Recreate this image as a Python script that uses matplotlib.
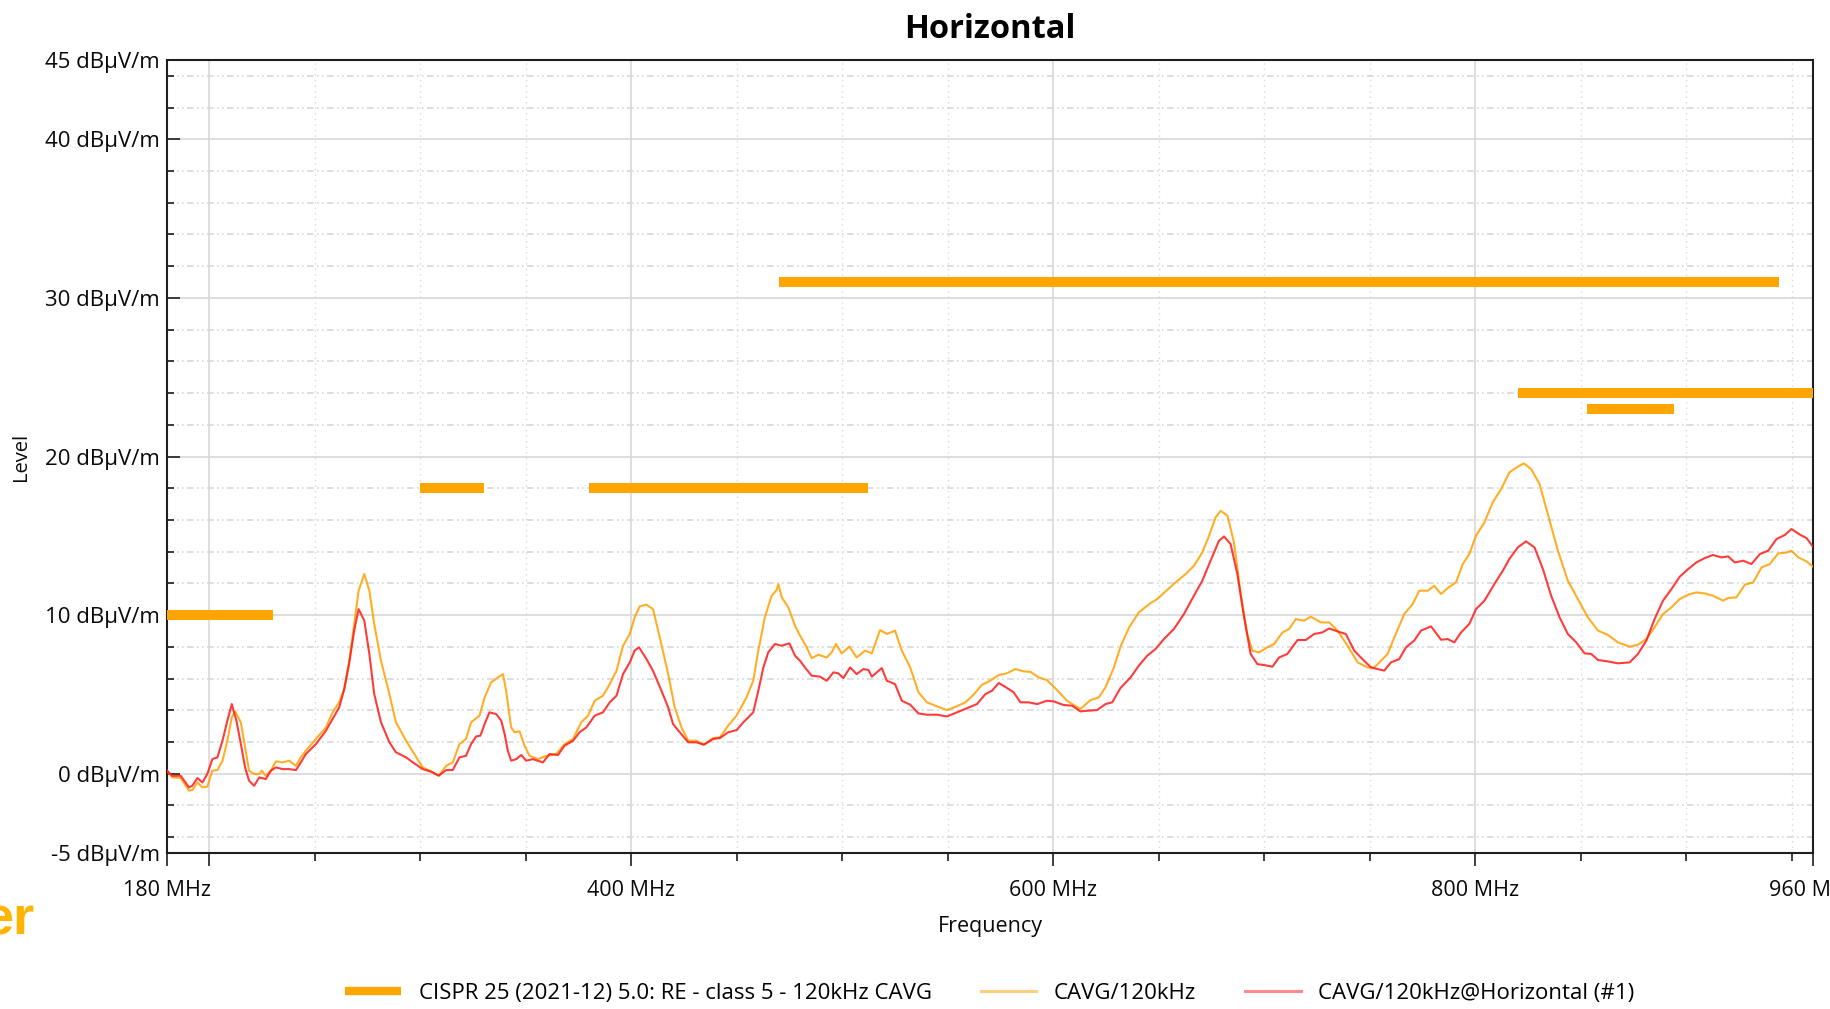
import numpy as np
import matplotlib.pyplot as plt
from matplotlib.lines import Line2D
from matplotlib.ticker import FixedLocator, FuncFormatter

plt.rcParams['font.family'] = ['Open Sans', 'DejaVu Sans']

# CISPR 25 class 5 CAVG limit segments
limit_start = [180, 300, 380, 420, 470, 820, 925, 853]
limit_stop = [230, 330, 450, 512, 944, 960, 960, 894]
limit_level = [10, 18, 18, 18, 31, 24, 24, 23]

# CAVG/120kHz
cavg_freq = [180.0, 182.5, 186.5, 190.4, 192.0, 194.4, 196.8, 199.1, 201.5, 203.9,
             206.3, 208.6, 210.7, 212.3, 215.0, 217.0, 218.9, 221.3, 223.7, 224.9,
             226.8, 229.2, 231.6, 234.7, 237.9, 241.1, 243.4, 245.8, 250.6, 255.3,
             258.5, 261.6, 264.0, 266.4, 268.7, 270.8, 273.5, 275.9, 278.2, 281.4,
             285.4, 288.5, 293.3, 297.2, 301.2, 305.1, 308.8, 312.3, 315.4, 318.6,
             321.7, 324.1, 326.5, 328.1, 330.5, 333.6, 336.8, 339.2, 340.7, 343.1,
             344.7, 347.1, 349.4, 351.8, 355.8, 359.7, 364.5, 368.4, 372.4, 376.3,
             379.5, 382.7, 386.6, 389.8, 393.0, 396.1, 399.3, 401.6, 404.0, 407.2,
             410.3, 413.5, 417.5, 420.6, 423.8, 427.0, 430.9, 434.4, 438.8, 442.0,
             445.9, 449.9, 454.6, 457.8, 460.2, 463.3, 466.5, 468.9, 469.7, 471.3,
             474.4, 477.6, 480.0, 483.1, 485.5, 488.7, 492.6, 495.0, 497.0, 499.7,
             503.4, 506.8, 510.8, 514.0, 517.9, 521.1, 525.0, 528.2, 532.2, 536.1,
             540.1, 544.8, 549.6, 554.3, 558.3, 562.2, 566.2, 570.1, 574.1, 578.0,
             582.0, 586.0, 589.1, 593.1, 597.0, 601.8, 606.5, 612.8, 617.6, 621.5,
             624.7, 628.7, 631.8, 635.8, 640.5, 646.1, 649.2, 653.2, 657.9, 662.7,
             666.6, 670.6, 673.8, 676.9, 679.3, 682.5, 685.6, 688.8, 691.9, 694.3,
             697.5, 701.4, 704.6, 708.6, 711.7, 714.9, 718.8, 722.0, 726.8, 730.7,
             734.7, 739.4, 744.2, 748.9, 752.1, 755.2, 758.4, 761.6, 766.3, 770.3,
             773.4, 777.4, 780.5, 783.7, 787.3, 790.8, 794.0, 797.1, 800.3, 804.3,
             808.2, 812.2, 816.1, 820.1, 822.9, 826.4, 830.4, 834.3, 839.1, 843.8,
             848.6, 853.3, 858.1, 862.8, 867.5, 873.1, 877.0, 881.0, 884.9, 888.9,
             892.9, 896.8, 900.8, 904.7, 908.7, 912.6, 917.4, 919.8, 923.7, 927.7,
             931.6, 935.6, 939.5, 943.5, 947.4, 949.8, 953.0, 956.9, 960.0]
cavg_level = [0.19, -0.23, -0.27, -1.07, -1.03, -0.55, -0.86, -0.82, 0.19, 0.23,
              0.82, 2.08, 3.55, 3.93, 3.24, 1.66, 0.19, -0.02, -0.02, 0.19,
              -0.13, 0.19, 0.78, 0.71, 0.82, 0.50, 1.03, 1.45, 2.19, 2.92,
              3.87, 4.50, 5.34, 7.12, 9.44, 11.54, 12.59, 11.54, 9.44, 7.12,
              5.02, 3.24, 2.08, 1.24, 0.40, 0.15, -0.13, 0.50, 0.71, 1.87,
              2.19, 3.24, 3.50, 3.66, 4.81, 5.76, 6.07, 6.28, 5.23, 2.92,
              2.61, 2.67, 1.77, 1.13, 0.92, 1.13, 1.24, 1.87, 2.19, 3.24,
              3.66, 4.60, 4.92, 5.65, 6.49, 8.07, 8.81, 9.86, 10.55, 10.66,
              10.38, 8.60, 6.28, 4.18, 2.92, 2.08, 2.08, 1.83, 2.25, 2.29,
              3.03, 3.66, 4.81, 5.86, 7.76, 9.86, 11.22, 11.58, 11.96, 11.12,
              10.49, 9.33, 8.70, 7.97, 7.29, 7.50, 7.33, 7.65, 8.18, 7.59,
              8.01, 7.33, 7.76, 7.59, 9.06, 8.81, 9.02, 7.76, 6.70, 5.13,
              4.50, 4.25, 4.01, 4.25, 4.50, 4.98, 5.61, 5.86, 6.22, 6.33,
              6.60, 6.45, 6.43, 6.07, 5.90, 5.27, 4.60, 4.08, 4.64, 4.81,
              5.44, 6.70, 8.00, 9.20, 10.17, 10.76, 11.01, 11.50, 12.06, 12.59,
              13.11, 13.95, 15.01, 16.16, 16.58, 16.27, 14.59, 11.33, 8.81, 7.76,
              7.65, 7.97, 8.18, 8.91, 9.12, 9.75, 9.65, 9.90, 9.54, 9.54,
              9.02, 8.07, 7.02, 6.70, 6.70, 7.12, 7.55, 8.60, 10.07, 10.70,
              11.54, 11.54, 11.85, 11.33, 11.75, 12.06, 13.22, 13.85, 15.01, 15.85,
              17.11, 17.95, 19.00, 19.36, 19.57, 19.21, 18.26, 16.37, 14.06, 12.17,
              11.01, 9.86, 9.02, 8.75, 8.28, 8.01, 8.13, 8.49, 9.23, 10.07,
              10.49, 11.01, 11.29, 11.43, 11.37, 11.22, 10.91, 11.08, 11.12, 11.92,
              12.06, 13.01, 13.22, 13.89, 13.95, 14.06, 13.64, 13.39, 13.05]

# CAVG/120kHz@Horizontal (#1)
horiz_freq = [180.0, 182.5, 186.5, 190.4, 192.0, 194.4, 196.8, 199.1, 201.5, 203.9,
              206.3, 208.6, 210.7, 212.9, 215.0, 217.0, 218.9, 221.3, 223.7, 226.8,
              229.2, 231.6, 234.7, 237.9, 241.1, 243.4, 245.8, 250.6, 255.3, 258.5,
              261.6, 264.0, 266.4, 268.7, 270.8, 273.5, 275.9, 278.2, 281.4, 285.4,
              288.5, 293.3, 297.2, 301.2, 305.1, 308.8, 312.3, 315.4, 318.6, 321.7,
              324.1, 326.5, 328.5, 330.5, 332.8, 336.0, 338.4, 340.0, 341.5, 343.1,
              345.5, 347.9, 350.2, 353.4, 358.1, 361.3, 365.3, 368.4, 372.4, 375.5,
              378.7, 382.7, 386.6, 389.8, 393.0, 396.1, 399.3, 401.6, 403.7, 407.2,
              410.3, 414.3, 417.5, 419.8, 423.0, 427.0, 430.9, 434.4, 438.8, 442.0,
              445.9, 449.9, 453.1, 457.8, 460.2, 462.6, 464.9, 468.1, 471.3, 474.9,
              477.6, 480.0, 482.3, 485.5, 489.4, 492.6, 495.8, 498.1, 500.5, 503.7,
              506.8, 510.0, 512.4, 514.0, 518.7, 521.1, 525.0, 528.2, 532.2, 536.1,
              540.1, 544.8, 549.6, 554.3, 559.1, 563.8, 567.8, 570.9, 574.1, 577.2,
              581.2, 584.4, 588.3, 592.3, 597.0, 600.2, 604.9, 608.9, 612.8, 616.0,
              620.7, 624.7, 627.9, 631.8, 636.6, 640.5, 644.5, 648.4, 652.4, 657.1,
              661.9, 666.6, 670.6, 674.5, 678.5, 680.9, 684.0, 687.2, 690.4, 693.5,
              696.7, 699.9, 703.8, 707.0, 710.9, 715.7, 719.6, 723.6, 727.5, 730.7,
              734.7, 738.6, 742.6, 745.7, 750.5, 753.7, 756.8, 760.0, 763.9, 767.1,
              771.0, 774.2, 779.0, 783.7, 786.9, 790.0, 793.2, 797.1, 800.3, 804.3,
              809.0, 813.0, 816.1, 820.1, 824.0, 828.0, 832.0, 835.9, 839.9, 843.8,
              847.8, 851.7, 854.9, 858.1, 862.8, 867.5, 873.1, 877.0, 881.0, 884.9,
              888.9, 892.9, 896.8, 900.8, 904.7, 908.7, 912.6, 916.6, 919.8, 922.9,
              926.9, 930.8, 934.8, 938.7, 942.7, 946.6, 949.8, 953.8, 956.9, 960.0]
horiz_level = [0.19, -0.13, -0.13, -0.86, -0.76, -0.27, -0.55, -0.02, 0.92, 1.03,
               2.08, 3.34, 4.39, 3.34, 1.87, 0.40, -0.44, -0.76, -0.23, -0.34,
               0.19, 0.40, 0.29, 0.29, 0.23, 0.71, 1.24, 1.87, 2.71, 3.45,
               4.18, 5.34, 7.02, 9.02, 10.38, 9.65, 7.54, 5.02, 3.24, 1.98,
               1.35, 1.03, 0.65, 0.29, 0.13, -0.12, 0.23, 0.23, 1.03, 1.13,
               1.87, 2.35, 2.40, 3.13, 3.87, 3.76, 3.34, 2.50, 1.45, 0.82,
               0.92, 1.18, 0.82, 0.92, 0.71, 1.24, 1.18, 1.77, 2.08, 2.61,
               2.92, 3.66, 3.87, 4.50, 4.92, 6.28, 7.02, 7.76, 7.97, 7.23,
               6.49, 5.23, 4.18, 3.13, 2.61, 1.98, 1.98, 1.83, 2.19, 2.25,
               2.61, 2.75, 3.24, 3.87, 5.23, 6.70, 7.65, 8.18, 8.07, 8.22,
               7.44, 7.12, 6.70, 6.18, 6.12, 5.86, 6.39, 6.33, 6.03, 6.70,
               6.28, 6.60, 6.54, 6.12, 6.66, 5.86, 5.65, 4.60, 4.35, 3.80,
               3.72, 3.72, 3.61, 3.87, 4.14, 4.39, 5.02, 5.23, 5.72, 5.48,
               5.13, 4.50, 4.50, 4.39, 4.60, 4.56, 4.33, 4.29, 3.93, 3.97,
               4.01, 4.39, 4.50, 5.40, 6.07, 6.81, 7.44, 7.86, 8.49, 9.12,
               10.07, 11.22, 12.17, 13.43, 14.69, 14.96, 14.48, 12.59, 9.86, 7.55,
               6.91, 6.85, 6.75, 7.33, 7.55, 8.43, 8.43, 8.81, 8.91, 9.16,
               8.97, 8.81, 7.76, 7.33, 6.70, 6.60, 6.50, 7.02, 7.23, 7.97,
               8.39, 9.02, 9.29, 8.45, 8.49, 8.28, 8.91, 9.44, 10.38, 10.91,
               11.96, 12.80, 13.54, 14.27, 14.65, 14.27, 12.90, 11.22, 9.86, 8.81,
               8.28, 7.59, 7.55, 7.17, 7.08, 6.96, 7.02, 7.55, 8.39, 9.75,
               10.91, 11.64, 12.42, 12.90, 13.32, 13.60, 13.79, 13.64, 13.70, 13.32,
               13.43, 13.22, 13.85, 14.06, 14.80, 15.05, 15.43, 15.07, 14.86, 14.31]

x_major = [180, 200, 400, 600, 800, 960]
x_labeled = [180, 400, 600, 800, 960]
x_minor = [250, 300, 350, 450, 500, 550, 650, 700, 750, 850, 900, 950]
y_major = [-5, 0, 10, 20, 30, 40, 45]
y_minor = [v for v in range(-4, 45, 2) if v % 10 != 0]

limit_color = '#FFA500'
cavg_color = '#FFA000'
horiz_color = '#FF1A1A'
grid_color = '#D8D8D8'
axis_color = '#1E1E1E'
text_color = '#0A0A0A'

fig = plt.figure(figsize=(18.31, 10.09), dpi=100)
ax = fig.add_axes([0.0912, 0.1546, 0.899, 0.7859])

for f0, f1, lvl in zip(limit_start, limit_stop, limit_level):
    ax.plot([f0, f1], [lvl, lvl], color=limit_color, lw=7.2,
            solid_capstyle='butt', zorder=4)

ax.plot(cavg_freq, cavg_level, color=cavg_color, lw=1.5, alpha=0.85, zorder=3)
ax.plot(horiz_freq, horiz_level, color=horiz_color, lw=1.5, alpha=0.85, zorder=3)

ax.set_xlim(180, 960)
ax.set_ylim(-5, 45)

ax.xaxis.set_major_locator(FixedLocator(x_major))
ax.xaxis.set_minor_locator(FixedLocator(x_minor))
ax.xaxis.set_major_formatter(FuncFormatter(
    lambda v, p: f'{v:g} MHz' if v in x_labeled else ''))
ax.yaxis.set_major_locator(FixedLocator(y_major))
ax.yaxis.set_minor_locator(FixedLocator(y_minor))
ax.yaxis.set_major_formatter(FuncFormatter(lambda v, p: f'{v:g} dBµV/m'))

ax.grid(which='major', color=grid_color, lw=1.2, ls='-', zorder=0)
ax.grid(which='minor', axis='y', color=grid_color, lw=1.2,
        ls=(0, (4, 2, 1, 2, 1, 2)), zorder=0)
ax.grid(which='minor', axis='x', color=grid_color, lw=1.0, ls=(0, (1, 3)), zorder=0)

ax.tick_params(axis='y', which='major', direction='in', length=9.5, width=1.2,
               color=axis_color, labelsize=16, labelcolor=text_color, pad=5)
ax.tick_params(axis='y', which='minor', direction='in', length=5, width=1.2,
               color=axis_color)
ax.tick_params(axis='x', which='major', direction='out', length=9.5, width=1.2,
               color=axis_color, labelsize=15.5, labelcolor=text_color, pad=10)
ax.tick_params(axis='x', which='minor', direction='out', length=5.5, width=1.2,
               color=axis_color)

for side in ['left', 'right', 'top', 'bottom']:
    ax.spines[side].set_color(axis_color)
    ax.spines[side].set_linewidth(1.5)

ax.set_xlabel('Frequency', fontsize=15.5, color=text_color)
ax.xaxis.set_label_coords(0.5, -0.079)
ax.set_ylabel('Level', fontsize=14.5, color=text_color)
ax.yaxis.set_label_coords(-0.0826, 0.5)

fig.text(0.5407, 0.971, 'Horizontal', ha='center', va='center',
         fontsize=23.5, fontweight='bold', color='#000000')

fig.text(0.0190, 0.088, 'er', ha='right', va='center', fontsize=39,
         fontweight='bold', color='#FFB400', family=['Liberation Sans'])

handles = [
    Line2D([], [], color=limit_color, lw=6, solid_capstyle='butt'),
    Line2D([], [], color=cavg_color, lw=2.2, alpha=0.5),
    Line2D([], [], color=horiz_color, lw=2.2, alpha=0.5),
]
labels = ['CISPR 25 (2021-12) 5.0: RE - class 5 - 120kHz CAVG',
          'CAVG/120kHz', 'CAVG/120kHz@Horizontal (#1)']
fig.legend(handles, labels, loc='center', bbox_to_anchor=(0.5407, 0.0155),
           ncol=3, frameon=False, fontsize=16, handlelength=2.5,
           handletextpad=0.8, columnspacing=2.2)

fig.savefig('out.png', dpi=100)
